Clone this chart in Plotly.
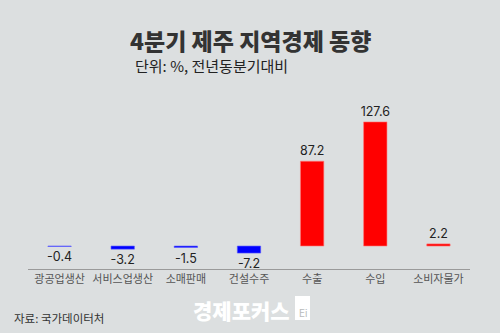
import plotly.graph_objects as go

categories = ["광공업생산", "서비스업생산", "소매판매", "건설수주", "수출", "수입", "소비자물가"]
values = [-0.4, -3.2, -1.5, -7.2, 87.2, 127.6, 2.2]
labels = ["-0.4", "-3.2", "-1.5", "-7.2", "87.2", "127.6", "2.2"]

BG = "#dcdfe0"
bar_colors = ["#0000ff" if v < 0 else "#ff0000" for v in values]
edge_colors = ["#5a5aff" if v < 0 else "#ff7a7a" for v in values]

# plot area in pixels
W, H = 500, 333
ML, MR, MT, MB = 28, 30, 90, 64
pw = W - ML - MR
ph = H - MT - MB


def px_to_paper(px, py):
    return (px - ML) / pw, (H - MB - py) / ph


fig = go.Figure(
    go.Bar(
        x=categories,
        y=values,
        width=0.37,
        marker=dict(color=bar_colors, line=dict(color=edge_colors, width=0.6)),
        text=labels,
        textposition="outside",
        constraintext="none",
        cliponaxis=False,
        textfont=dict(family="Inter, Noto Sans CJK KR", size=12.5, color="#222"),
    )
)

texts = [
    ("4분기 제주 지역경제 동향", 250, 40, "center", 23, "#333", 900),
    ("단위: %, 전년동분기대비", 133, 65, "left", 15, "#222", 400),
    ("자료: 국가데이터처", 12, 318, "left", 11.5, "#333", 400),
    ("경제포커스", 191, 310, "left", 21, "#ffffff", 900),
]
annotations = []
for txt, px, py, anchor, size, color, weight in texts:
    x, y = px_to_paper(px, py)
    annotations.append(dict(
        text=txt, x=x, y=y, xref="paper", yref="paper",
        xanchor=anchor, yanchor="middle", showarrow=False,
        font=dict(family="Noto Sans CJK KR", size=size, color=color, weight=weight),
    ))

# small white badge beside the wordmark
bx0, by0 = px_to_paper(295, 320)
bx1, by1 = px_to_paper(310, 296)
ex, ey = px_to_paper(302.5, 313)
annotations.append(dict(
    text="Ei", x=ex, y=ey, xref="paper", yref="paper",
    showarrow=False, yanchor="middle",
    font=dict(family="Inter", size=10, color="#b8bbbc"),
))

fig.update_layout(
    width=W,
    height=H,
    paper_bgcolor=BG,
    plot_bgcolor=BG,
    margin=dict(l=ML, r=MR, t=MT, b=MB),
    showlegend=False,
    xaxis=dict(
        showline=True,
        linecolor="#9a9a9a",
        linewidth=1,
        ticks="",
        tickangle=0,
        showgrid=False,
        tickfont=dict(family="Noto Sans CJK KR", size=11, color="#555"),
    ),
    yaxis=dict(
        range=[-23.6, 160.4],
        visible=False,
        showgrid=False,
        zeroline=False,
    ),
    annotations=annotations,
    shapes=[dict(
        type="rect", xref="paper", yref="paper",
        x0=bx0, x1=bx1, y0=by0, y1=by1,
        fillcolor="#ffffff", line=dict(width=0), layer="above",
    )],
)

fig.write_html("out.html")
